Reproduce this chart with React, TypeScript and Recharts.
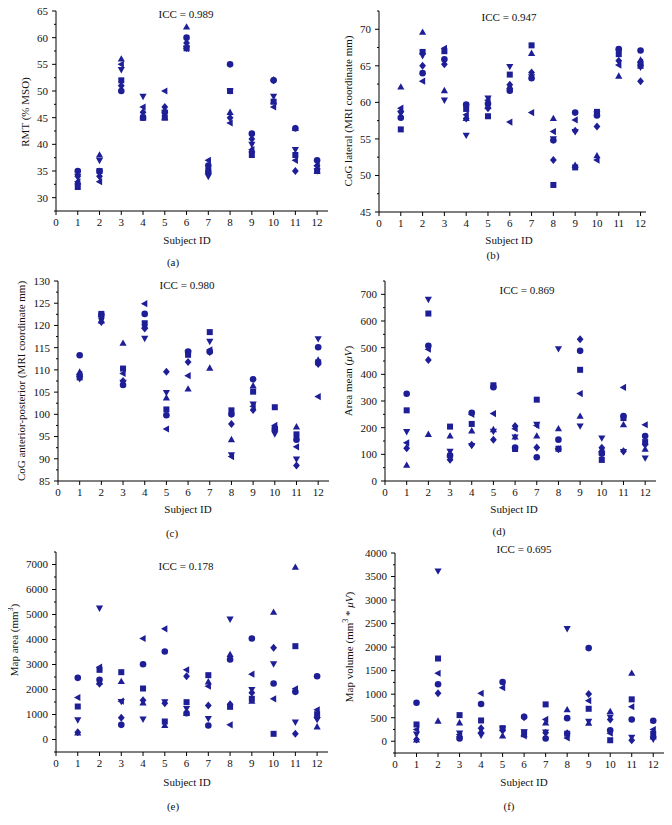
import React from 'react';
import { ScatterChart, Scatter, XAxis, YAxis } from 'recharts';

const MARK = '#1e1e96';
const FONT = '"Liberation Serif", "DejaVu Serif", serif';

const subjects = [1, 2, 3, 4, 5, 6, 7, 8, 9, 10, 11, 12];
const xTicks = [0, 1, 2, 3, 4, 5, 6, 7, 8, 9, 10, 11, 12];

// (a) RMT
const rmtSquare = [32, 35, 52, 45, 45, 58, 35, 50, 38, 48, 38, 35];
const rmtCircle = [35, 35, 50, 45, 46, 60, 36, 55, 42, 52, 43, 37];
const rmtTriUp = [33, 38, 56, 45, 45, 62, 35, 46, 39, 48, 43, 35];
const rmtTriDown = [34, 37, 54, 49, 46, 58, 34, 50, 40, 49, 39, 35];
const rmtDiamond = [34, 34, 51, 46, 47, 59, 35, 45, 41, 52, 35, 36];
const rmtTriLeft = [33, 33, 55, 47, 50, 58, 37, 44, 39, 47, 37, 36];
const rmtTicks = [30, 35, 40, 45, 50, 55, 60, 65];

// (b) CoG lateral
const latSquare = [56.3, 66.9, 67.0, 59.1, 58.1, 63.8, 67.8, 48.7, 51.1, 58.7, 66.6, 65.0];
const latCircle = [57.9, 64.0, 65.9, 59.7, 59.8, 61.6, 63.3, 54.8, 58.6, 58.2, 67.3, 67.1];
const latTriUp = [62.1, 69.6, 61.6, 57.8, 59.5, 62.2, 66.7, 57.8, 51.4, 52.7, 63.6, 65.8];
const latTriDown = [58.5, 66.4, 60.3, 55.5, 60.6, 64.9, 63.5, 55.0, 56.0, 58.4, 66.9, 64.8];
const latDiamond = [58.7, 65.0, 65.2, 57.8, 59.2, 62.4, 64.1, 52.1, 56.1, 56.7, 65.7, 62.9];
const latTriLeft = [59.2, 62.9, 67.4, 58.3, 60.3, 57.3, 58.6, 56.0, 57.6, 52.1, 65.1, 65.5];
const latTicks = [45, 50, 55, 60, 65, 70];

// (c) CoG anterior-posterior
const apSquare = [108.3, 122.6, 110.3, 120.5, 101.1, 113.4, 118.5, 100.9, 105.1, 101.6, 95.5, 111.7];
const apCircle = [113.3, 122.4, 106.6, 122.6, 99.8, 114.1, 114.1, 100.0, 107.9, 96.9, 94.3, 115.1];
const apTriUp = [109.5, 121.0, 116.0, 119.9, 103.7, 105.7, 110.4, 94.3, 106.4, 97.0, 97.2, 112.2];
const apTriDown = [108.0, 121.2, 107.2, 117.1, 104.9, 113.8, 116.4, 90.9, 102.3, 95.6, 89.9, 117.0];
const apDiamond = [108.6, 120.8, 107.5, 119.3, 109.6, 111.8, 114.0, 97.8, 101.0, 96.3, 88.5, 111.3];
const apTriLeft = [109.0, 122.0, 109.2, 124.9, 96.7, 108.7, 114.5, 90.5, 101.8, 97.5, 92.7, 104.0];
const apTicks = [85, 90, 95, 100, 105, 110, 115, 120, 125, 130];

// (d) Area mean
const amSquare = [265, 628, 204, 214, 359, 120, 305, 121, 417, 79, 236, 146];
const amCircle = [327, 507, 96, 256, 352, 125, 89, 155, 488, 102, 244, 169];
const amTriUp = [59, 175, 169, 188, 193, 165, 169, 196, 243, 118, 211, 119];
const amTriDown = [185, 681, 111, 133, 186, 165, 212, 496, 206, 161, 110, 86];
const amDiamond = [123, 454, 80, 136, 155, 206, 126, 119, 532, 125, 112, 137];
const amTriLeft = [143, 494, 90, 250, 253, 196, 208, 121, 328, 110, 351, 211];
const amTicks = [0, 100, 200, 300, 400, 500, 600, 700];

// (e) Map area
const maSquare = [1320, 2787, 2693, 2040, 720, 1493, 2573, 1307, 1627, 227, 3733, 1013];
const maCircle = [2467, 2387, 587, 3013, 3520, 1053, 560, 3200, 4040, 2240, 1907, 2533];
const maTriUp = [267, 2300, 2320, 1467, 560, 1040, 2307, 3400, 1533, 5093, 6893, 507];
const maTriDown = [787, 5253, 1520, 813, 1507, 1240, 840, 4813, 2000, 3027, 693, 800];
const maDiamond = [293, 2227, 867, 1573, 1453, 2533, 1360, 1413, 1867, 3667, 227, 867];
const maTriLeft = [1680, 2893, 1533, 4040, 4427, 2787, 2133, 587, 2613, 1627, 2027, 1187];
const maTicks = [0, 1000, 2000, 3000, 4000, 5000, 6000, 7000];

// (f) Map volume
const mvSquare = [356, 1758, 555, 441, 278, 185, 783, 160, 690, 21, 890, 157];
const mvCircle = [819, 1210, 57, 790, 1260, 520, 57, 491, 1979, 235, 463, 434];
const mvTriUp = [28, 427, 391, 214, 114, 142, 391, 669, 384, 633, 1445, 93];
const mvTriDown = [149, 3616, 171, 128, 263, 199, 192, 2391, 420, 512, 85, 43];
const mvDiamond = [36, 1018, 100, 278, 228, 512, 178, 171, 1004, 463, 21, 78];
const mvTriLeft = [249, 1445, 142, 1018, 1139, 114, 463, 71, 861, 171, 733, 249];
const mvTicks = [0, 500, 1000, 1500, 2000, 2500, 3000, 3500, 4000];

type Kind = 'square' | 'circle' | 'up' | 'down' | 'diamond' | 'left';

const Marker = ({ cx, cy, kind }: { cx: number; cy: number; kind: Kind }) => {
  const r = 3.3;
  if (cx == null || cy == null) return null;
  switch (kind) {
    case 'circle':
      return <circle cx={cx} cy={cy} r={r} fill={MARK} />;
    case 'square':
      return <rect x={cx - 3} y={cy - 3} width={6} height={6} fill={MARK} />;
    case 'up':
      return <polygon points={`${cx},${cy - 3.8} ${cx - 3.6},${cy + 2.6} ${cx + 3.6},${cy + 2.6}`} fill={MARK} />;
    case 'down':
      return <polygon points={`${cx},${cy + 3.8} ${cx - 3.6},${cy - 2.6} ${cx + 3.6},${cy - 2.6}`} fill={MARK} />;
    case 'left':
      return <polygon points={`${cx - 3.8},${cy} ${cx + 2.6},${cy - 3.6} ${cx + 2.6},${cy + 3.6}`} fill={MARK} />;
    default:
      return <polygon points={`${cx},${cy - 4} ${cx + 3.4},${cy} ${cx},${cy + 4} ${cx - 3.4},${cy}`} fill={MARK} />;
  }
};

const kinds: Kind[] = ['square', 'circle', 'up', 'down', 'diamond', 'left'];

const toPoints = (vals: number[]) => subjects.map((s, i) => ({ x: s, y: vals[i] }));

interface PanelProps {
  left: number;
  top: number;
  w: number;
  h: number;
  plot: { l: number; t: number; r: number; b: number };
  xMax: number;
  yDomain: [number, number];
  yTicks: number[];
  series: number[][];
  icc: string;
  iccPos: [number, number];
  xLabelPos: [number, number];
  letter: string;
  letterPos: [number, number];
  yLabel: React.ReactNode;
  yLabelPos: [number, number];
}

const Panel: React.FC<PanelProps> = (p) => {
  const step = p.yTicks[1] - p.yTicks[0];
  const minor: number[] = [];
  p.yTicks.forEach((t) => {
    if (t - step / 2 >= p.yDomain[0]) minor.push(t - step / 2);
  });
  const last = p.yTicks[p.yTicks.length - 1];
  if (last + step / 2 <= p.yDomain[1] + 1e-9) minor.push(last + step / 2);
  const allTicks = [...p.yTicks, ...minor].sort((a, b) => a - b);
  const majors = new Set(p.yTicks);

  const YTick = (tp: any) => {
    const v = tp.payload.value;
    const y = tp.y;
    const major = majors.has(v);
    return (
      <g>
        <line x1={p.plot.l} x2={p.plot.l - (major ? 4 : 2)} y1={y} y2={y} stroke="#000" strokeWidth={1} />
        {major && (
          <text x={p.plot.l - 8} y={y} dy="0.35em" textAnchor="end" fontSize={11} fontFamily={FONT} fill="#111">
            {v}
          </text>
        )}
      </g>
    );
  };

  return (
    <div style={{ position: 'absolute', left: p.left, top: p.top, width: p.w, height: p.h }}>
      <ScatterChart
        width={p.w}
        height={p.h}
        margin={{ top: p.plot.t, right: p.w - p.plot.r, bottom: 0, left: 0 }}
      >
        <XAxis
          type="number"
          dataKey="x"
          domain={[0, p.xMax]}
          ticks={xTicks}
          interval={0}
          allowDataOverflow
          height={p.h - p.plot.b}
          stroke="#000"
          tickSize={4}
          tickMargin={3}
          tick={{ fill: '#111', fontSize: 11, fontFamily: FONT }}
        />
        <YAxis
          type="number"
          dataKey="y"
          domain={p.yDomain}
          ticks={allTicks}
          interval={0}
          allowDataOverflow
          width={p.plot.l}
          stroke="#000"
          tickLine={false}
          tick={YTick}
        />
        {p.series.map((vals, i) => (
          <Scatter
            key={kinds[i]}
            data={toPoints(vals)}
            fill={MARK}
            isAnimationActive={false}
            shape={(sp: any) => <Marker cx={sp.cx} cy={sp.cy} kind={kinds[i]} />}
          />
        ))}
      </ScatterChart>
      <svg
        width={p.w}
        height={p.h}
        style={{ position: 'absolute', left: 0, top: 0, pointerEvents: 'none' }}
        fontFamily={FONT}
        fill="#111"
        fontSize={11}
      >
        <text x={p.iccPos[0]} y={p.iccPos[1]} textAnchor="middle">{p.icc}</text>
        <text x={p.xLabelPos[0]} y={p.xLabelPos[1]} textAnchor="middle">Subject ID</text>
        <text x={p.letterPos[0]} y={p.letterPos[1]} textAnchor="middle">{p.letter}</text>
        <text
          transform={`translate(${p.yLabelPos[0]},${p.yLabelPos[1]}) rotate(-90)`}
          textAnchor="middle"
          dominantBaseline="central"
        >
          {p.yLabel}
        </text>
      </svg>
    </div>
  );
};

const App: React.FC = () => (
  <div style={{ position: 'relative', width: 672, height: 825, margin: -8, background: '#fff' }}>
    <Panel
      left={0} top={0} w={336} h={270}
      plot={{ l: 56, t: 11, r: 328, b: 211 }}
      xMax={12.5} yDomain={[27.5, 65]} yTicks={rmtTicks}
      series={[rmtSquare, rmtCircle, rmtTriUp, rmtTriDown, rmtDiamond, rmtTriLeft]}
      icc="ICC = 0.989" iccPos={[186, 18]}
      xLabelPos={[187, 244]} letter="(a)" letterPos={[173, 266]}
      yLabel="RMT (% MSO)" yLabelPos={[25, 112]}
    />
    <Panel
      left={336} top={0} w={336} h={270}
      plot={{ l: 43, t: 11, r: 310, b: 212 }}
      xMax={12.25} yDomain={[45, 72.5]} yTicks={latTicks}
      series={[latSquare, latCircle, latTriUp, latTriDown, latDiamond, latTriLeft]}
      icc="ICC = 0.947" iccPos={[173, 21]}
      xLabelPos={[173, 244]} letter="(b)" letterPos={[157, 259]}
      yLabel="CoG lateral (MRI coordinate mm)" yLabelPos={[12, 111]}
    />
    <Panel
      left={0} top={270} w={336} h={270}
      plot={{ l: 58, t: 11, r: 329, b: 211 }}
      xMax={12.5} yDomain={[85, 130]} yTicks={apTicks}
      series={[apSquare, apCircle, apTriUp, apTriDown, apDiamond, apTriLeft]}
      icc="ICC = 0.980" iccPos={[187, 19]}
      xLabelPos={[188, 243]} letter="(c)" letterPos={[172, 267]}
      yLabel="CoG anterior-posterior (MRI coordinate mm)" yLabelPos={[21, 111]}
    />
    <Panel
      left={336} top={270} w={336} h={270}
      plot={{ l: 49, t: 11, r: 320, b: 211 }}
      xMax={12.5} yDomain={[0, 750]} yTicks={amTicks}
      series={[amSquare, amCircle, amTriUp, amTriDown, amDiamond, amTriLeft]}
      icc="ICC = 0.869" iccPos={[191, 24]}
      xLabelPos={[178, 243]} letter="(d)" letterPos={[163, 265]}
      yLabel={<><tspan>Area mean (</tspan><tspan fontStyle="italic">μV</tspan><tspan>)</tspan></>}
      yLabelPos={[12, 111]}
    />
    <Panel
      left={0} top={540} w={336} h={285}
      plot={{ l: 56, t: 12, r: 328, b: 212 }}
      xMax={12.5} yDomain={[-500, 7500]} yTicks={maTicks}
      series={[maSquare, maCircle, maTriUp, maTriDown, maDiamond, maTriLeft]}
      icc="ICC = 0.178" iccPos={[186, 30]}
      xLabelPos={[187, 246]} letter="(e)" letterPos={[173, 270]}
      yLabel={<><tspan>Map area (mm</tspan><tspan dy={-4} fontSize={8}>3</tspan><tspan dy={4}>)</tspan></>}
      yLabelPos={[14, 100]}
    />
    <Panel
      left={336} top={540} w={336} h={285}
      plot={{ l: 59, t: 13, r: 328, b: 213 }}
      xMax={12.5} yDomain={[-250, 4000]} yTicks={mvTicks}
      series={[mvSquare, mvCircle, mvTriUp, mvTriDown, mvDiamond, mvTriLeft]}
      icc="ICC = 0.695" iccPos={[188, 13]}
      xLabelPos={[188, 246]} letter="(f)" letterPos={[173, 270]}
      yLabel={<><tspan>Map volume (mm</tspan><tspan dy={-4} fontSize={8}>3</tspan><tspan dy={4}> * </tspan><tspan fontStyle="italic">μV</tspan><tspan>)</tspan></>}
      yLabelPos={[13, 107]}
    />
  </div>
);

export default App;
